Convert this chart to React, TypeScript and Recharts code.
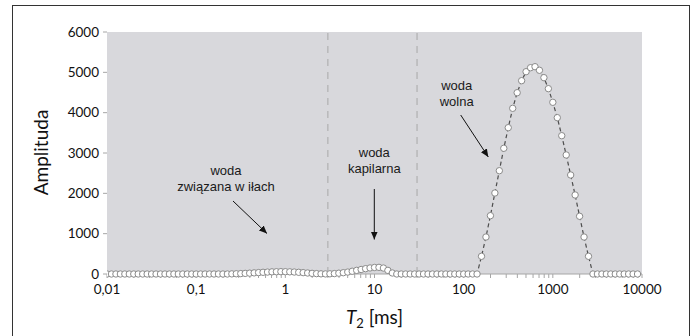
import { LineChart, Line, XAxis, YAxis, CartesianGrid, ReferenceLine } from "recharts";

// T2 distribution, one value per bin; bins are log-spaced, 20 per decade, first bin at 0.01 ms
const AMPLITUDE = [
  0, 0, 0, 0, 0, 0, 0, 0, 0, 0, 0, 0, 0, 0, 0, 0, 0, 0, 0, 0,
  0, 0, 0, 0, 0, 0, 0, 0, 3, 6, 10, 15, 21, 28, 35, 42, 48, 53, 56, 58,
  57, 54, 49, 42, 34, 25, 16, 9, 4, 2, 5, 10, 20, 32, 48, 68, 90, 112, 132, 150,
  162, 165, 148, 90, 25, 0, 0, 0, 0, 0, 0, 0, 0, 0, 0, 0, 0, 0, 0, 0,
  0, 0, 0, 0, 439, 917, 1446, 2008, 2561, 3117, 3628, 4108, 4495, 4793, 5016, 5115, 5140, 5051, 4868, 4595,
  4257, 3876, 3429, 2951, 2455, 1959, 1431, 917, 439, 0, 0, 0, 0, 0, 0, 0, 0, 0, 0, 0,
];
const FIRST_BIN = 0.01;
const BINS_PER_DECADE = 20;

const DECADES = [0.01, 0.1, 1, 10, 100, 1000, 10000];
const DECADE_LABELS = ["0,01", "0,1", "1", "10", "100", "1000", "10000"];
const Y_TICKS = [0, 1000, 2000, 3000, 4000, 5000, 6000];
// cut-offs between clay-bound, capillary and free water [ms]
const CUTOFFS = [3, 30];

const data = AMPLITUDE.map((a, i) => ({
  t: FIRST_BIN * Math.pow(10, i / BINS_PER_DECADE),
  a,
}));

// major + minor ticks of the log axis
const xTicks = DECADES.slice(0, -1)
  .flatMap((d) => [1, 2, 3, 4, 5, 6, 7, 8, 9].map((m) => d * m))
  .concat(DECADES[DECADES.length - 1]);

const decadeLabel = (v: number) => {
  const i = DECADES.findIndex((d) => Math.abs(d - v) / d < 1e-6);
  return i >= 0 ? DECADE_LABELS[i] : "";
};

const tickFont = { fontFamily: "Lato", fontSize: 13.5, fill: "#111" };
const noteFont = { fontFamily: "Liberation Sans", fontSize: 13, fill: "#1a1a1a" };

const App = () => {
  return (
    <div
      style={{
        position: "fixed",
        left: 0,
        top: 0,
        width: 692,
        height: 336,
        overflow: "hidden",
        background: "#fff",
      }}
    >
      {/* frame */}
      <div
        style={{
          position: "absolute",
          left: 12,
          top: 5,
          width: 678,
          height: 345,
          border: "1.5px solid #333",
          boxSizing: "border-box",
        }}
      />

      <div style={{ position: "absolute", left: 0, top: 0 }}>
        <LineChart
          width={692}
          height={336}
          data={data}
          margin={{ top: 32, right: 50, bottom: 0, left: 0 }}
        >
          <CartesianGrid fill="#d8d8dc" horizontal={false} vertical={false} />
          <XAxis
            dataKey="t"
            type="number"
            scale="log"
            domain={[0.01, 10000]}
            allowDataOverflow
            ticks={xTicks}
            interval={0}
            tickFormatter={decadeLabel}
            height={62}
            tickSize={4}
            tickMargin={6}
            tick={tickFont}
            axisLine={{ stroke: "#a6a6a6" }}
            tickLine={{ stroke: "#a6a6a6" }}
          />
          <YAxis
            type="number"
            domain={[0, 6000]}
            ticks={Y_TICKS}
            width={107}
            tickSize={4}
            tickMargin={4}
            tick={tickFont}
            axisLine={false}
            tickLine={{ stroke: "#a6a6a6" }}
          />
          {CUTOFFS.map((c) => (
            <ReferenceLine
              key={c}
              x={c}
              stroke="#a8a8a8"
              strokeWidth={1}
              strokeDasharray="7 6"
            />
          ))}
          <Line
            type="linear"
            dataKey="a"
            stroke="#4d4d4d"
            strokeWidth={1.2}
            strokeDasharray="4 3"
            dot={{
              r: 3.2,
              fill: "#fff",
              stroke: "#8a8a8a",
              strokeWidth: 1,
              strokeDasharray: "none",
            }}
            activeDot={false}
            isAnimationActive={false}
          />
        </LineChart>
      </div>

      {/* titles and annotations */}
      <svg
        width={692}
        height={336}
        style={{ position: "absolute", left: 0, top: 0, pointerEvents: "none" }}
      >
        <defs>
          <marker
            id="head"
            markerWidth={8}
            markerHeight={7}
            refX={8}
            refY={3.5}
            orient="auto"
            markerUnits="userSpaceOnUse"
          >
            <path d="M0,0 L8,3.5 L0,7 z" fill="#111" />
          </marker>
        </defs>

        <text
          transform="translate(48,152.5) rotate(-90)"
          textAnchor="middle"
          fontFamily="Lato"
          fontSize={19}
          fill="#111"
        >
          Amplituda
        </text>
        <text x={374.5} y={324} textAnchor="middle" fontFamily="Lato" fontSize={19} fill="#111">
          <tspan fontStyle="italic">T</tspan>
          <tspan fontSize={13} dy={4}>2</tspan>
          <tspan dy={-4}> [ms]</tspan>
        </text>

        <g {...noteFont} textAnchor="middle">
          <text x={226} y={175}>woda</text>
          <text x={226} y={190.5}>związana w iłach</text>
          <text x={374.3} y={156.5}>woda</text>
          <text x={374.3} y={172.5}>kapilarna</text>
          <text x={456.7} y={90}>woda</text>
          <text x={456.7} y={106}>wolna</text>
        </g>

        <g stroke="#111" strokeWidth={1}>
          <line x1={233} y1={201} x2={267} y2={233.5} markerEnd="url(#head)" />
          <line x1={374.3} y1={189} x2={374.3} y2={239.5} markerEnd="url(#head)" />
          <line x1={460.7} y1={115} x2={488.3} y2={157} markerEnd="url(#head)" />
        </g>
      </svg>
    </div>
  );
};

export default App;
